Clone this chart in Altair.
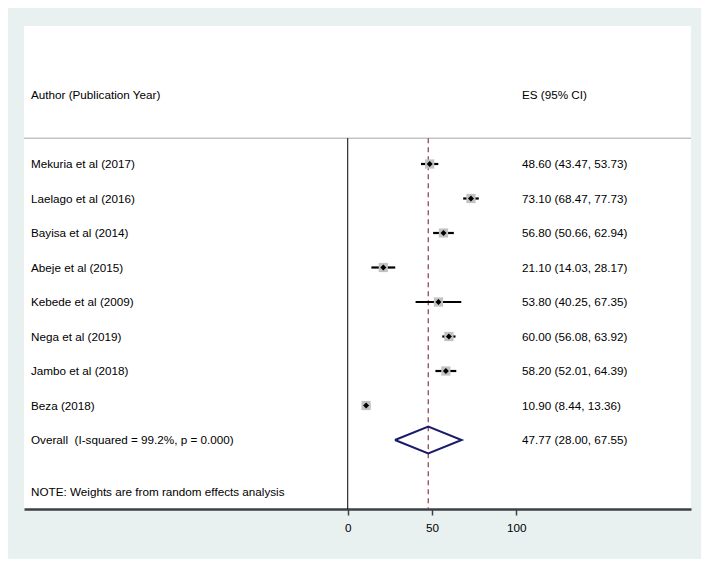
import altair as alt
import pandas as pd

# ---- data ----
studies = ["Mekuria et al (2017)", "Laelago et al (2016)", "Bayisa et al (2014)",
           "Abeje et al (2015)", "Kebede et al (2009)", "Nega et al (2019)",
           "Jambo et al (2018)", "Beza (2018)"]
es = [48.60, 73.10, 56.80, 21.10, 53.80, 60.00, 58.20, 10.90]
lo = [43.47, 68.47, 50.66, 14.03, 40.25, 56.08, 52.01, 8.44]
hi = [53.73, 77.73, 62.94, 28.17, 67.35, 63.92, 64.39, 13.36]
overall_es = [47.77]
overall_lo = [28.00]
overall_hi = [67.55]
overall_label = ["Overall  (I-squared = 99.2%, p = 0.000)"]
header_left = ["Author (Publication Year)"]
header_right = ["ES (95% CI)"]
note = ["NOTE: Weights are from random effects analysis"]
x_ticks = [0, 50, 100]

FONT = "Liberation Sans"
FS = 11.7

n = len(studies)
study_df = pd.DataFrame({
    "row": list(range(n)),
    "label": studies,
    "es": es, "lo": lo, "hi": hi,
})
study_df["es_text"] = [f"{e:.2f} ({a:.2f}, {b:.2f})" for e, a, b in zip(es, lo, hi)]

ov_row = n
left_labels = header_left + studies + [s.replace("  ", " \u00a0") for s in overall_label] + note
left_text = pd.DataFrame({
    "row": [-2] + list(range(n)) + [ov_row, ov_row + 1.5],
    "text": left_labels,
})
right_text = pd.DataFrame({
    "row": [-2] + list(range(n)) + [ov_row],
    "text": header_right + list(study_df["es_text"]) +
            [f"{overall_es[0]:.2f} ({overall_lo[0]:.2f}, {overall_hi[0]:.2f})"],
})

half = 0.387
diamond = pd.DataFrame({
    "x": [overall_lo[0], overall_es[0], overall_hi[0], overall_es[0], overall_lo[0]],
    "y": [ov_row, ov_row - half, ov_row, ov_row + half, ov_row],
    "o": [0, 1, 2, 3, 4],
})
ov_df = pd.DataFrame({"es": overall_es})

xs = alt.Scale(domain=[-192, 203.6], nice=False, zero=False)
ys = alt.Scale(domain=[-4, 10], reverse=True, nice=False, zero=False)

base = alt.Chart(study_df)

axis_layer = base.mark_rule(opacity=0).encode(
    x=alt.X("es:Q", scale=xs, title=None,
            axis=alt.Axis(values=x_ticks, grid=False, domainColor="#3c4146",
                          domainWidth=2.4, tickColor="#3c4146", tickWidth=1.5,
                          tickSize=6, labelFont=FONT, labelFontSize=FS,
                          labelColor="#000000", labelPadding=7, format="d")),
    y=alt.Y("row:Q", scale=ys, axis=None),
)

top_line = alt.Chart(ov_df).mark_rule(color="#c4c4c4", strokeWidth=1.5).encode(
    y=alt.datum(-0.75, scale=ys),
)

zero_line = alt.Chart(ov_df).mark_rule(color="#000000", strokeWidth=1).encode(
    x=alt.datum(0),
    y=alt.datum(-0.75),
    y2=alt.datum(10),
)

dash_line = alt.Chart(ov_df).mark_rule(color="#8e3a4c", strokeWidth=1.2,
                                       strokeDash=[5, 4]).encode(
    x=alt.X("es:Q", scale=xs),
    y=alt.datum(-0.75),
    y2=alt.datum(10),
)

ci = base.mark_rule(color="#000000", strokeWidth=2.2).encode(
    x=alt.X("lo:Q", scale=xs), x2="hi:Q",
    y=alt.Y("row:Q", scale=ys),
)

boxes = base.mark_square(color="#c2c2c2", size=85, opacity=1).encode(
    x=alt.X("es:Q", scale=xs), y=alt.Y("row:Q", scale=ys),
)

points = base.mark_point(shape="diamond", filled=True, color="#000000",
                         size=36, opacity=1).encode(
    x=alt.X("es:Q", scale=xs), y=alt.Y("row:Q", scale=ys),
)

dia = alt.Chart(diamond).mark_line(color="#1b1b6b", strokeWidth=2).encode(
    x=alt.X("x:Q", scale=xs), y=alt.Y("y:Q", scale=ys), order="o:Q",
)

ltext = alt.Chart(left_text).mark_text(align="left", baseline="middle",
                                       font=FONT, fontSize=FS,
                                       color="#000000").encode(
    x=alt.value(7), y=alt.Y("row:Q", scale=ys), text="text:N",
)

rtext = alt.Chart(right_text).mark_text(align="left", baseline="middle",
                                        font=FONT, fontSize=FS,
                                        color="#000000").encode(
    x=alt.value(498), y=alt.Y("row:Q", scale=ys), text="text:N",
)

chart = alt.layer(
    axis_layer, top_line, zero_line, dash_line, ci, boxes, points, dia, ltext, rtext
).properties(
    width=667, height=483,
    padding={"left": 16, "top": 18, "right": 10, "bottom": 50},
    autosize=alt.AutoSizeParams(type="none"),
    background="#e8f0f0",
).configure_view(fill="#ffffff", stroke=None)

chart.save("out.html", embed_options={"renderer": "svg", "actions": False})
